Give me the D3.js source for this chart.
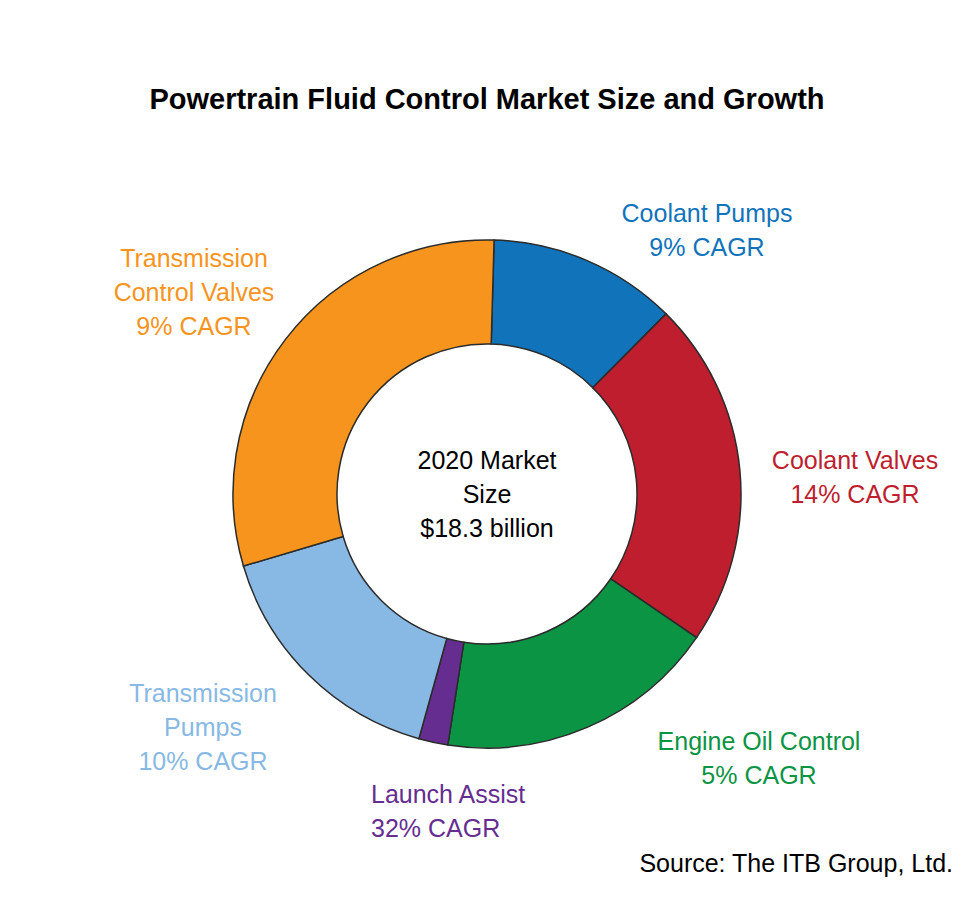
<!DOCTYPE html>
<html>
<head>
<meta charset="utf-8">
<script src="https://cdn.jsdelivr.net/npm/d3@7"></script>
<style>
  body { margin: 0; background: #fff; }
  text { font-family: Arial, "Liberation Sans", sans-serif; }
</style>
</head>
<body>
<svg id="chart"></svg>
<script>
// market segments, clockwise from the top
const segments = ["Coolant Pumps", "Coolant Valves", "Engine Oil Control", "Launch Assist", "Transmission Pumps", "Transmission Control Valves"];
const sizes = [2.2, 4.05, 3.28, 0.34, 2.95, 5.5]; // $ billion, 2020 (estimated)
const cagr = ["9%", "14%", "5%", "32%", "10%", "9%"];
const colors = ["#1174bb", "#be1e2d", "#0b9444", "#662d91", "#88b9e4", "#f7941d"];
const labelLines = [
  ["Coolant Pumps"],
  ["Coolant Valves"],
  ["Engine Oil Control"],
  ["Launch Assist"],
  ["Transmission", "Pumps"],
  ["Transmission", "Control Valves"]
];
const centerLines = ["2020 Market", "Size", "$18.3 billion"];

const width = 975, height = 900;
const cx = 487, cy = 494;
const outerR = 254, innerR = 150;

const svg = d3.select("#chart").attr("width", width).attr("height", height);

svg.append("text")
  .attr("x", cx).attr("y", 109)
  .attr("text-anchor", "middle")
  .attr("font-size", 29).attr("font-weight", "bold")
  .text("Powertrain Fluid Control Market Size and Growth");

const data = segments.map((s, i) => ({name: s, value: sizes[i], cagr: cagr[i], color: colors[i], lines: labelLines[i]}));

const offset = 1.6 * Math.PI / 180;
const pie = d3.pie().sort(null).value(d => d.value)
  .startAngle(offset).endAngle(2 * Math.PI + offset);
const arc = d3.arc().innerRadius(innerR).outerRadius(outerR);

const g = svg.append("g").attr("transform", `translate(${cx},${cy})`);
g.selectAll("path")
  .data(pie(data))
  .join("path")
  .attr("d", arc)
  .attr("fill", d => d.data.color)
  .attr("stroke", "#2b2b2b")
  .attr("stroke-width", 1.5);

// label positions (text block anchor, first line centre y)
const labelPos = [
  {x: 707, y: 213, anchor: "middle"},
  {x: 855, y: 460, anchor: "middle"},
  {x: 759, y: 741, anchor: "middle"},
  {x: 371, y: 794, anchor: "start"},
  {x: 203, y: 693, anchor: "middle"},
  {x: 194, y: 258, anchor: "middle"}
];
const lineH = 33.8;

data.forEach((d, i) => {
  const p = labelPos[i];
  const lines = d.lines.concat([d.cagr + " CAGR"]);
  const t = svg.append("text")
    .attr("text-anchor", p.anchor)
    .attr("font-size", 25)
    .attr("fill", d.color);
  lines.forEach((l, j) => {
    t.append("tspan").attr("x", p.x).attr("y", p.y + j * lineH + 9).text(l);
  });
});

const ct = svg.append("text").attr("text-anchor", "middle").attr("font-size", 25).attr("fill", "#000");
centerLines.forEach((l, j) => {
  ct.append("tspan").attr("x", cx).attr("y", 460 + j * lineH + 9).text(l);
});

svg.append("text")
  .attr("x", 953).attr("y", 872)
  .attr("text-anchor", "end")
  .attr("font-size", 25)
  .text("Source: The ITB Group, Ltd.");
</script>
</body>
</html>
